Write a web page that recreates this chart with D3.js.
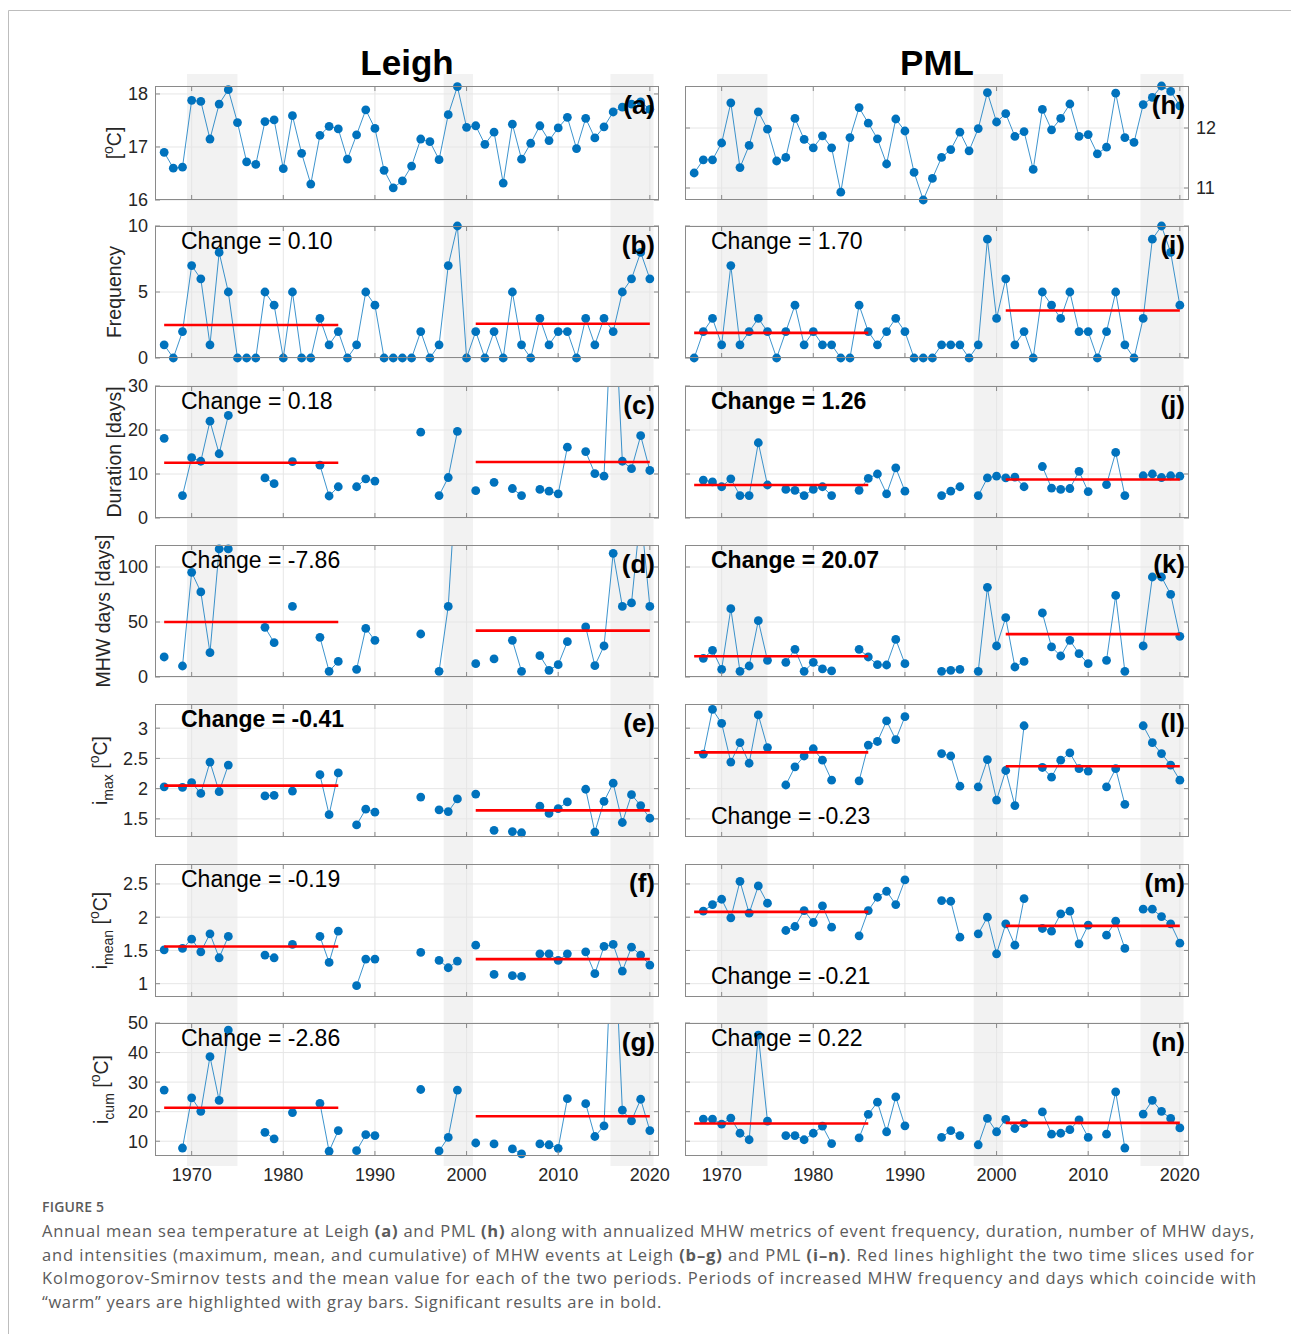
<!DOCTYPE html>
<html>
<head>
<meta charset="utf-8">
<script src="https://cdn.jsdelivr.net/npm/d3@7"></script>
<style>
body { margin: 0; background: #fff; }
svg text { font-family: "Liberation Sans", Arial, Helvetica, sans-serif; }
</style>
</head>
<body>
<div id="chart"></div>
<script>
// ---- data ----
var years = d3.range(1967, 2021);

// Leigh
var leighTemp = [16.90, 16.60, 16.62, 17.88, 17.86, 17.15, 17.81, 18.08, 17.46, 16.72,
	16.67, 17.48, 17.51, 16.59, 17.59, 16.88, 16.30, 17.22, 17.39, 17.34,
	16.77, 17.23, 17.70, 17.35, 16.56, 16.23, 16.36, 16.64, 17.15, 17.10,
	16.76, 17.61, 18.14, 17.37, 17.40, 17.05, 17.28, 16.32, 17.43, 16.77,
	17.07, 17.40, 17.12, 17.36, 17.56, 16.97, 17.54, 17.17, 17.38, 17.66,
	17.75, 17.81, 17.85, 17.71];
var leighFreq = [1, 0, 2, 7, 6, 1, 8, 5, 0, 0,
	0, 5, 4, 0, 5, 0, 0, 3, 1, 2,
	0, 1, 5, 4, 0, 0, 0, 0, 2, 0,
	1, 7, 10, 0, 2, 0, 2, 0, 5, 1,
	0, 3, 1, 2, 2, 0, 3, 1, 3, 2,
	5, 6, 8, 6];
var leighDur = [18.1, null, 5.1, 13.7, 12.9, 22.0, 14.6, 23.3, null, null,
	null, 9.1, 7.8, null, 12.8, null, null, 12.0, 5.0, 7.1,
	null, 7.1, 8.9, 8.4, null, null, null, null, 19.5, null,
	5.1, 9.2, 19.7, null, 6.2, null, 8.1, null, 6.7, 5.1,
	null, 6.5, 6.1, 5.5, 16.1, null, 15.1, 10.1, 9.5, 56,
	12.9, 11.2, 18.7, 10.8];
var leighDays = [18.2, null, 10.0, 95.2, 77.3, 22.1, 116.4, 116.4, null, null,
	null, 45.2, 31.2, null, 64.2, null, null, 36.1, 5.2, 14.2,
	null, 7.0, 44.2, 33.3, null, null, null, null, 39.1, null,
	5.2, 64.2, 197, null, 12.1, null, 16.4, null, 33.3, 5.2,
	null, 19.4, 6.1, 11.2, 32.1, null, 45.5, 10.3, 28.2, 112.4,
	64.2, 67.3, 150, 64.2];
var leighImax = [2.03, null, 2.02, 2.10, 1.92, 2.44, 1.95, 2.39, null, null,
	null, 1.88, 1.89, null, 1.96, null, null, 2.23, 1.57, 2.26,
	null, 1.40, 1.66, 1.61, null, null, null, null, 1.86, null,
	1.65, 1.62, 1.83, null, 1.91, null, 1.31, null, 1.29, 1.27,
	null, 1.71, 1.59, 1.67, 1.78, null, 1.99, 1.28, 1.79, 2.09,
	1.44, 1.90, 1.72, 1.51];
var leighImean = [1.51, null, 1.53, 1.67, 1.48, 1.75, 1.39, 1.71, null, null,
	null, 1.43, 1.39, null, 1.59, null, null, 1.71, 1.32, 1.79,
	null, 0.97, 1.37, 1.37, null, null, null, null, 1.47, null,
	1.35, 1.24, 1.34, null, 1.58, null, 1.14, null, 1.12, 1.11,
	null, 1.45, 1.45, 1.35, 1.45, null, 1.48, 1.15, 1.56, 1.59,
	1.19, 1.55, 1.43, 1.28];
var leighIcum = [27.3, null, 7.7, 24.7, 20.1, 38.6, 23.8, 47.6, null, null,
	null, 13.0, 10.8, null, 19.7, null, null, 22.8, 6.6, 13.6,
	null, 6.8, 12.2, 11.9, null, null, null, null, 27.5, null,
	6.7, 11.3, 27.3, null, 9.4, null, 9.1, null, 7.4, 5.7,
	null, 9.1, 8.8, 7.6, 24.4, null, 22.7, 11.6, 15.2, 90,
	20.5, 16.9, 24.2, 13.6];

// PML
var pmlTemp = [11.25, 11.47, 11.47, 11.75, 12.42, 11.34, 11.71, 12.27, 11.98, 11.45,
	11.51, 12.16, 11.81, 11.67, 11.87, 11.67, 10.93, 11.84, 12.34, 12.08,
	11.82, 11.40, 12.15, 11.95, 11.26, 10.80, 11.16, 11.51, 11.64, 11.93,
	11.62, 11.99, 12.59, 12.10, 12.24, 11.86, 11.94, 11.31, 12.31, 11.97,
	12.16, 12.40, 11.86, 11.89, 11.57, 11.68, 12.58, 11.84, 11.76, 12.39,
	12.51, 12.70, 12.61, 12.37];
var pmlFreq = [0, 2, 3, 1, 7, 1, 2, 3, 2, 0,
	2, 4, 1, 2, 1, 1, 0, 0, 4, 2,
	1, 2, 3, 2, 0, 0, 0, 1, 1, 1,
	0, 1, 9, 3, 6, 1, 2, 0, 5, 4,
	3, 5, 2, 2, 0, 2, 5, 1, 0, 3,
	9, 10, 8, 4];
var pmlDur = [null, 8.6, 8.2, 7.1, 8.9, 5.1, 5.1, 17.1, 7.5, null,
	6.5, 6.3, 5.1, 6.5, 7.1, 5.1, null, null, 6.3, 9.0,
	10.0, 5.5, 11.4, 6.1, null, null, null, 5.1, 6.1, 7.1,
	null, 5.1, 9.1, 9.5, 9.1, 9.3, 7.1, null, 11.7, 6.8,
	6.5, 6.7, 10.6, 6.0, null, 7.6, 14.9, 5.1, null, 9.6,
	10.0, 9.2, 9.6, 9.5];
var pmlDays = [null, 17.0, 24.2, 7.0, 62.1, 5.2, 10.0, 51.2, 15.2, null,
	13.3, 25.2, 5.2, 13.3, 7.3, 5.5, null, null, 25.2, 18.2,
	11.2, 10.9, 34.2, 12.1, null, null, null, 5.2, 6.1, 7.0,
	null, 5.2, 81.5, 28.2, 53.9, 9.1, 14.2, null, 58.2, 27.3,
	19.1, 33.3, 21.2, 12.1, null, 15.2, 74.2, 5.2, null, 28.2,
	90.9, 90.9, 75.2, 37.0];
var pmlImax = [null, 2.57, 3.31, 3.08, 2.44, 2.76, 2.42, 3.22, 2.68, null,
	2.06, 2.36, 2.54, 2.66, 2.47, 2.14, null, null, 2.13, 2.72,
	2.78, 3.12, 2.81, 3.19, null, null, null, 2.58, 2.54, 2.04,
	null, 2.03, 2.48, 1.81, 2.30, 1.72, 3.04, null, 2.35, 2.19,
	2.47, 2.59, 2.33, 2.29, null, 2.03, 2.33, 1.74, null, 3.04,
	2.76, 2.58, 2.39, 2.14];
var pmlImean = [null, 2.09, 2.19, 2.27, 1.99, 2.54, 2.06, 2.47, 2.21, null,
	1.80, 1.86, 2.10, 1.92, 2.17, 1.85, null, null, 1.72, 2.10,
	2.30, 2.39, 2.19, 2.56, null, null, null, 2.25, 2.24, 1.70,
	null, 1.75, 2.00, 1.45, 1.90, 1.58, 2.28, null, 1.83, 1.79,
	2.05, 2.09, 1.60, 1.88, null, 1.73, 1.94, 1.53, null, 2.12,
	2.12, 2.01, 1.90, 1.61];
var pmlIcum = [null, 17.5, 17.5, 15.8, 17.8, 12.7, 10.5, 45.9, 16.8, null,
	11.9, 11.9, 10.5, 12.7, 15.1, 9.2, null, null, 11.1, 19.1,
	23.2, 13.2, 25.0, 15.2, null, null, null, 11.3, 13.6, 11.9,
	null, 8.8, 17.7, 13.2, 17.4, 14.3, 16.0, null, 19.9, 12.4,
	12.7, 13.9, 17.2, 11.3, null, 12.4, 26.7, 7.7, null, 19.2,
	23.8, 20.1, 17.7, 14.5];

// period means (red lines) and change labels
var periods = [[1967, 1986], [2001, 2020]];
var leighMeans = [[2.5, 2.6], [12.55, 12.73], [50.0, 42.14], [2.05, 1.64], [1.56, 1.37], [21.3, 18.44]];
var pmlMeans = [[1.9, 3.6], [7.5, 8.76], [18.9, 38.97], [2.60, 2.37], [2.08, 1.87], [16.0, 16.22]];
var leighChange = ["0.10", "0.18", "-7.86", "-0.41", "-0.19", "-2.86"];
var pmlChange = ["1.70", "1.26", "20.07", "-0.23", "-0.21", "0.22"];
var leighBold = [false, false, false, true, false, false];
var pmlBold = [false, true, true, false, false, false];

// warm years (gray bars)
var warmBars = [[1969.5, 1975], [1997.5, 2000.7], [2015.7, 2020.4]];

// axis ticks
var xTicks = [1970, 1980, 1990, 2000, 2010, 2020];
var yDomains = [[16, 18.15], [0, 10], [0, 30], [0, 120], [1.2, 3.4], [0.8, 2.8], [5, 50]];
var yTicks = [[16, 17, 18], [0, 5, 10], [0, 10, 20, 30], [0, 50, 100], [1.5, 2, 2.5, 3], [1, 1.5, 2, 2.5], [10, 20, 30, 40, 50]];
var pmlTempDomain = [10.8, 12.7],
	pmlTempTicks = [11, 12];

// ---- layout ----
var width = 1291,
	height = 1334;
var colX = [155, 685],
	panelW = 504;
var rowTop = [86, 226, 386, 545, 704, 864, 1023];
var rowBot = [200, 358, 518, 677, 837, 997, 1156];
var blue = "#0072BD",
	boxColor = "#8a8a8a",
	gridColor = "#e6e6e6",
	tickFont = 18;

var svg = d3.select("#chart")
	.append("svg")
	.attr("width", width)
	.attr("height", height);

// card frame
svg.append("path")
	.attr("d", "M8.5," + height + "V10.5H" + width)
	.attr("fill", "none")
	.attr("stroke", "#bdbdbd");

// column titles
svg.append("text").attr("x", 407).attr("y", 75).attr("text-anchor", "middle")
	.attr("font-size", 35).attr("font-weight", "bold").text("Leigh");
svg.append("text").attr("x", 937).attr("y", 75).attr("text-anchor", "middle")
	.attr("font-size", 35).attr("font-weight", "bold").text("PML");

var sites = [
	{ series: [leighTemp, leighFreq, leighDur, leighDays, leighImax, leighImean, leighIcum],
	  means: leighMeans, change: leighChange, bold: leighBold,
	  letters: ["(a)", "(b)", "(c)", "(d)", "(e)", "(f)", "(g)"] },
	{ series: [pmlTemp, pmlFreq, pmlDur, pmlDays, pmlImax, pmlImean, pmlIcum],
	  means: pmlMeans, change: pmlChange, bold: pmlBold,
	  letters: ["(h)", "(i)", "(j)", "(k)", "(l)", "(m)", "(n)"] }
];

sites.forEach(function(site, col) {
	var x = d3.scaleLinear().domain([1966, 2021]).range([colX[col], colX[col] + panelW]);

	// gray bars behind the whole column
	svg.append("g")
		.selectAll("rect")
		.data(warmBars)
		.enter()
		.append("rect")
		.attr("x", function(d) { return x(d[0]); })
		.attr("width", function(d) { return x(d[1]) - x(d[0]); })
		.attr("y", 74)
		.attr("height", 1166 - 74)
		.attr("fill", "#f2f2f2");

	site.series.forEach(function(values, row) {
		var domain = yDomains[row],
			ticks = yTicks[row];
		if (col === 1 && row === 0) {
			domain = pmlTempDomain;
			ticks = pmlTempTicks;
		}
		drawPanel(col, row, x, values, domain, ticks, site);
	});
});

function drawPanel(col, row, x, values, domain, ticks, site) {
	var x0 = colX[col], x1 = x0 + panelW,
		yt = rowTop[row], yb = rowBot[row];
	var y = d3.scaleLinear().domain(domain).range([yb, yt]);
	var g = svg.append("g").attr("class", "panel");
	var data = years.map(function(yr, i) { return { year: yr, v: values[i] }; });

	// grid
	g.selectAll(".xgrid").data(xTicks).enter().append("line")
		.attr("x1", function(d) { return x(d); }).attr("x2", function(d) { return x(d); })
		.attr("y1", yt).attr("y2", yb)
		.attr("stroke", gridColor);
	g.selectAll(".ygrid").data(ticks).enter().append("line")
		.attr("x1", x0).attr("x2", x1)
		.attr("y1", function(d) { return y(d); }).attr("y2", function(d) { return y(d); })
		.attr("stroke", gridColor);

	// clip
	var clipId = "clip-" + col + "-" + row;
	g.append("clipPath").attr("id", clipId)
		.append("rect").attr("x", x0).attr("y", yt).attr("width", panelW).attr("height", yb - yt);

	var line = d3.line()
		.defined(function(d) { return d.v != null; })
		.x(function(d) { return x(d.year); })
		.y(function(d) { return y(d.v); });

	g.append("path")
		.datum(data)
		.attr("clip-path", "url(#" + clipId + ")")
		.attr("d", line)
		.attr("fill", "none")
		.attr("stroke", blue)
		.attr("stroke-opacity", 0.85)
		.attr("stroke-width", 0.9);

	g.selectAll("circle")
		.data(data.filter(function(d) {
			return d.v != null && d.v >= domain[0] && d.v <= domain[1];
		}))
		.enter()
		.append("circle")
		.attr("cx", function(d) { return x(d.year); })
		.attr("cy", function(d) { return y(d.v); })
		.attr("r", 4.4)
		.attr("fill", blue);

	// red period means
	if (row > 0) {
		var m = site.means[row - 1];
		g.selectAll(".mean").data(periods).enter().append("line")
			.attr("x1", function(d) { return x(d[0]); })
			.attr("x2", function(d) { return x(d[1]); })
			.attr("y1", function(d, i) { return y(m[i]); })
			.attr("y2", function(d, i) { return y(m[i]); })
			.attr("stroke", "#ff0000")
			.attr("stroke-width", 2.6);
	}

	// box and inward ticks
	g.append("rect")
		.attr("x", x0 + 0.5).attr("y", yt + 0.5)
		.attr("width", panelW - 1).attr("height", yb - yt - 1)
		.attr("fill", "none").attr("stroke", boxColor);
	var tk = g.append("g").attr("stroke", boxColor);
	ticks.forEach(function(t) {
		tk.append("line").attr("x1", x0).attr("x2", x0 + 5).attr("y1", y(t)).attr("y2", y(t));
		tk.append("line").attr("x1", x1).attr("x2", x1 - 5).attr("y1", y(t)).attr("y2", y(t));
	});
	xTicks.forEach(function(t) {
		tk.append("line").attr("x1", x(t)).attr("x2", x(t)).attr("y1", yb).attr("y2", yb - 5);
		tk.append("line").attr("x1", x(t)).attr("x2", x(t)).attr("y1", yt).attr("y2", yt + 5);
	});

	// tick labels
	if (col === 0) {
		g.selectAll(".ylab").data(ticks).enter().append("text")
			.attr("x", x0 - 7).attr("y", function(d) { return y(d); })
			.attr("dy", "0.36em").attr("text-anchor", "end")
			.attr("font-size", tickFont).attr("fill", "#262626")
			.text(function(d) { return String(d); });
	} else if (row === 0) {
		g.selectAll(".ylab").data(ticks).enter().append("text")
			.attr("x", x1 + 7).attr("y", function(d) { return y(d); })
			.attr("dy", "0.36em").attr("text-anchor", "start")
			.attr("font-size", tickFont).attr("fill", "#262626")
			.text(function(d) { return String(d); });
	}
	if (row === 6) {
		g.selectAll(".xlab").data(xTicks).enter().append("text")
			.attr("x", function(d) { return x(d); }).attr("y", yb + 25)
			.attr("text-anchor", "middle")
			.attr("font-size", tickFont).attr("fill", "#262626")
			.text(function(d) { return String(d); });
	}

	// change label
	if (row > 0) {
		var atBottom = (col === 1 && (row === 4 || row === 5));
		g.append("text")
			.attr("x", x0 + 26)
			.attr("y", atBottom ? yb - 13 : yt + 23)
			.attr("font-size", 23)
			.attr("font-weight", site.bold[row - 1] ? "bold" : "normal")
			.text("Change = " + site.change[row - 1]);
	}

	// panel letter
	g.append("text")
		.attr("x", x1 - 4).attr("y", yt + 28)
		.attr("text-anchor", "end")
		.attr("font-size", 26).attr("font-weight", "bold")
		.text(site.letters[row]);
}

// y-axis titles (left column)
var yTitles = [
	{ row: 0, x: 121, parts: [["[", 0], ["o", -1], ["C]", 0]] },
	{ row: 1, x: 121, parts: [["Frequency", 0]] },
	{ row: 2, x: 121, parts: [["Duration [days]", 0]] },
	{ row: 3, x: 110, parts: [["MHW days [days]", 0]] },
	{ row: 4, x: 107, parts: [["i", 0], ["max", 1], [" [", 0], ["o", -1], ["C]", 0]] },
	{ row: 5, x: 107, parts: [["i", 0], ["mean", 1], [" [", 0], ["o", -1], ["C]", 0]] },
	{ row: 6, x: 108, parts: [["i", 0], ["cum", 1], [" [", 0], ["o", -1], ["C]", 0]] }
];
yTitles.forEach(function(t) {
	var cy = (rowTop[t.row] + rowBot[t.row]) / 2;
	var txt = svg.append("text")
		.attr("transform", "translate(" + t.x + "," + cy + ") rotate(-90)")
		.attr("text-anchor", "middle")
		.attr("font-size", 19.5)
		.attr("fill", "#262626");
	var shift = 0;
	t.parts.forEach(function(p) {
		var target = p[1] === 1 ? 6 : (p[1] === -1 ? -8 : 0);
		txt.append("tspan")
			.attr("dy", target - shift)
			.attr("font-size", p[1] === 0 ? 19.5 : 14)
			.text(p[0]);
		shift = target;
	});
});

// caption
var cap = svg.append("g").attr("fill", "#5b5b5b");
cap.append("text").attr("x", 42).attr("y", 1212).attr("font-size", 14)
	.attr("font-weight", 600).attr("letter-spacing", 0.2)
	.style("font-family", "'Open Sans', sans-serif").text("FIGURE 5");
var captionLines = [
	[["Annual mean sea temperature at Leigh ", 0], ["(a)", 1], [" and PML ", 0], ["(h)", 1], [" along with annualized MHW metrics of event frequency, duration, number of MHW days,", 0]],
	[["and intensities (maximum, mean, and cumulative) of MHW events at Leigh ", 0], ["(b\u2013g)", 1], [" and PML ", 0], ["(i\u2013n)", 1], [". Red lines highlight the two time slices used for", 0]],
	[["Kolmogorov-Smirnov tests and the mean value for each of the two periods. Periods of increased MHW frequency and days which coincide with", 0]],
	[["\u201cwarm\u201d years are highlighted with gray bars. Significant results are in bold.", 0]]
];
var captionWidths = [1213, 1213, 1215, 620];
captionLines.forEach(function(parts, i) {
	var t = cap.append("text")
		.attr("x", 42).attr("y", 1237 + i * 23.7)
		.attr("font-size", 16.5)
		.style("font-family", "'Open Sans', sans-serif");
	parts.forEach(function(p) {
		t.append("tspan").attr("font-weight", p[1] ? 700 : 400).text(p[0]);
	});
	// stretch letter spacing so each line ends where it does in the figure
	var len = t.node().getComputedTextLength();
	var n = parts.map(function(p) { return p[0]; }).join("").length;
	t.attr("letter-spacing", (captionWidths[i] - len) / n);
});
</script>
</body>
</html>
